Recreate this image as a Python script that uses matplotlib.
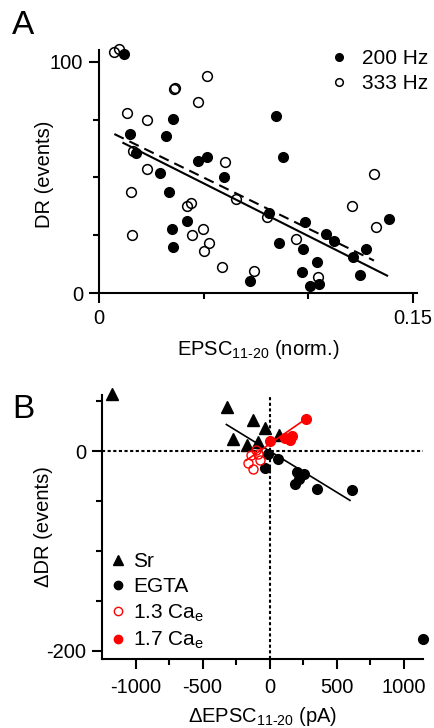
"""Two-panel scatter: DR vs normalised EPSC (A) and delta-DR vs delta-EPSC (B)."""

import matplotlib

matplotlib.use("Agg")
import matplotlib.pyplot as plt  # noqa: E402
import numpy as np  # noqa: E402
from matplotlib.lines import Line2D  # noqa: E402
from matplotlib.ticker import FixedLocator  # noqa: E402

plt.rcParams["font.family"] = ["Liberation Sans", "DejaVu Sans"]
plt.rcParams["axes.unicode_minus"] = False
plt.rcParams["mathtext.default"] = "regular"

# ---- panel A data ----
hz200_x = [0.0117, 0.0352, 0.0148, 0.0320, 0.0176, 0.0290, 0.0471, 0.0514, 0.0598,
           0.0844, 0.0877, 0.0333, 0.0813, 0.0418, 0.0346, 0.0354, 0.0719, 0.1384,
           0.0985, 0.0861, 0.0976, 0.1086, 0.1122, 0.1043, 0.0971, 0.1008, 0.1052,
           0.1212, 0.1275, 0.1247]
hz200_y = [103.3, 75.3, 68.9, 67.9, 60.4, 51.8, 57.1, 58.7, 50.3,
           76.6, 59.0, 43.6, 34.5, 31.3, 27.8, 20.1, 5.4, 32.0,
           30.8, 21.6, 19.1, 25.7, 22.5, 13.5, 9.1, 3.3, 4.0,
           15.8, 19.3, 7.9]
hz333_x = [0.0070, 0.0093, 0.0131, 0.0227, 0.0359, 0.0363, 0.0514, 0.0473, 0.0163,
           0.0230, 0.0601, 0.1314, 0.0150, 0.0418, 0.0439, 0.0652, 0.0801, 0.0158,
           0.0496, 0.0445, 0.0526, 0.0502, 0.0585, 0.0740, 0.1210, 0.1323, 0.0941,
           0.1048]
hz333_y = [104.3, 105.5, 77.7, 74.8, 88.3, 88.8, 93.8, 82.7, 61.6,
           53.7, 56.7, 51.4, 43.9, 37.8, 39.1, 40.7, 32.8, 25.3,
           27.6, 25.2, 21.6, 18.4, 11.5, 9.8, 37.7, 28.5, 23.4,
           7.2]
# regression lines: (intercept, slope, x start, x end)
fit_solid = (70.1, -453.7, 0.0115, 0.1377)
fit_dashed = (71.9, -439.6, 0.0072, 0.1314)

# ---- panel B data ----
sr_x = [-1179, -315, -124, -37, -273, -166, -87, 74]
sr_y = [57, 44, 31, 23, 12, 6, 9, 16]
egta_x = [-13, 65, -37, 203, 260, 223, 193, 357, 616, 1142]
egta_y = [-3, -8, -17, -21, -23, -28, -33, -38, -39, -188]
ca13_x = [-104, -136, -162, -124, -69, -87]
ca13_y = [1, -4, -12, -18, -9, -3]
ca17_x = [0, 112, 150, 170, 273]
ca17_y = [10, 13, 11, 15, 32]
fit_black = (0.0, -0.0823, -322, 600)
fit_red = (6.9, 0.0933, -174, 273)

RED = "#ff0000"
FS = 14.5


def style_axis(ax):
    for side in ("top", "right"):
        ax.spines[side].set_visible(False)
    for side in ("left", "bottom"):
        ax.spines[side].set_linewidth(1.5)
    ax.tick_params(which="major", direction="out", length=7.5, width=1.5,
                   labelsize=FS, pad=4)
    ax.tick_params(which="minor", direction="out", length=4, width=1.5)


def fit_line(ax, fit, **kw):
    b, m, x0, x1 = fit
    xs = np.array([x0, x1])
    ax.plot(xs, b + m * xs, **kw)


fig = plt.figure(figsize=(4.35, 7.28), dpi=100)

# ---------------- panel A ----------------
axA = fig.add_axes([0.2283, 0.5971, 0.7303, 0.3342])
axA.plot(hz200_x, hz200_y, "o", ms=7, color="black", clip_on=False, zorder=3)
axA.plot(hz333_x, hz333_y, "o", ms=7, mfc="none", mec="black", mew=1.1,
         clip_on=False, zorder=3)
fit_line(axA, fit_solid, color="black", lw=1.5, zorder=4)
fit_line(axA, fit_dashed, color="black", lw=1.5, dashes=(5, 3), zorder=4)
axA.set_xlim(0, 0.152)
axA.set_ylim(0, 105)
axA.xaxis.set_major_locator(FixedLocator([0, 0.15]))
axA.xaxis.set_minor_locator(FixedLocator([0.05, 0.10]))
axA.yaxis.set_major_locator(FixedLocator([0, 100]))
axA.yaxis.set_minor_locator(FixedLocator([25, 50, 75]))
axA.set_xticklabels(["0", "0.15"])
axA.set_yticklabels(["0", "100"])
style_axis(axA)
axA.set_xlabel("EPSC$_{11\u201020}$ (norm.)", fontsize=FS, labelpad=7)
axA.set_ylabel("DR (events)", fontsize=FS)
axA.yaxis.set_label_coords(-0.143, 0.49)
axA.legend(
    handles=[Line2D([], [], ls="none", marker="o", ms=5.5, color="black"),
             Line2D([], [], ls="none", marker="o", ms=5.5, mfc="none",
                    mec="black", mew=1.1)],
    labels=["200 Hz", "333 Hz"], loc="upper left", frameon=False,
    bbox_to_anchor=(331 / 435, 1 - 49 / 728), bbox_transform=fig.transFigure,
    fontsize=15, handlelength=0.8, handletextpad=0.7, borderpad=0,
    borderaxespad=0, labelspacing=0.3)

# ---------------- panel B ----------------
axB = fig.add_axes([0.2345, 0.0948, 0.738, 0.3626])
axB.axhline(0, color="black", lw=1.5, ls=(0, (1.5, 1.2)), zorder=1)
axB.axvline(0, color="black", lw=1.5, ls=(0, (1.5, 1.2)), zorder=1)
fit_line(axB, fit_black, color="black", lw=1.2, zorder=2)
axB.plot(sr_x, sr_y, "^", ms=8, color="black", clip_on=False, zorder=3)
axB.plot(egta_x, egta_y, "o", ms=7, color="black", clip_on=False, zorder=3)
fit_line(axB, fit_red, color=RED, lw=1.2, zorder=4)
axB.plot(ca13_x, ca13_y, "o", ms=6.5, mfc="none", mec=RED, mew=1.0, zorder=5)
axB.plot(ca17_x, ca17_y, "o", ms=7, color=RED, zorder=5)
axB.set_xlim(-1250, 1145)
axB.set_ylim(-208, 56)
axB.xaxis.set_major_locator(FixedLocator([-1000, -500, 0, 500, 1000]))
axB.xaxis.set_minor_locator(FixedLocator([-750, -250, 250, 750]))
axB.yaxis.set_major_locator(FixedLocator([-200, 0]))
axB.yaxis.set_minor_locator(FixedLocator([-150, -100, -50, 50]))
style_axis(axB)
axB.tick_params(axis="x", which="major", pad=6)
axB.set_xlabel("\u0394EPSC$_{11\u201020}$ (pA)", fontsize=FS, labelpad=6)
axB.set_ylabel("\u0394DR (events)", fontsize=FS)
axB.yaxis.set_label_coords(-0.153, 0.5)
axB.legend(
    handles=[Line2D([], [], ls="none", marker="^", ms=7.5, color="black"),
             Line2D([], [], ls="none", marker="o", ms=6, color="black"),
             Line2D([], [], ls="none", marker="o", ms=6, mfc="none", mec=RED,
                    mew=1.0),
             Line2D([], [], ls="none", marker="o", ms=6, color=RED)],
    labels=["Sr", "EGTA", "1.3 Ca$_e$", "1.7 Ca$_e$"], loc="upper left",
    frameon=False, bbox_to_anchor=(110 / 435, 1 - 552 / 728),
    bbox_transform=fig.transFigure, fontsize=15, handlelength=0.8,
    handletextpad=0.3, borderpad=0, borderaxespad=0, labelspacing=0.3)

fig.text(12 / 435, 1 - 25 / 728, "A", fontsize=24, va="center", ha="left")
fig.text(12 / 435, 1 - 410 / 728, "B", fontsize=24, va="center", ha="left")

fig.savefig("out.png", dpi=100)
